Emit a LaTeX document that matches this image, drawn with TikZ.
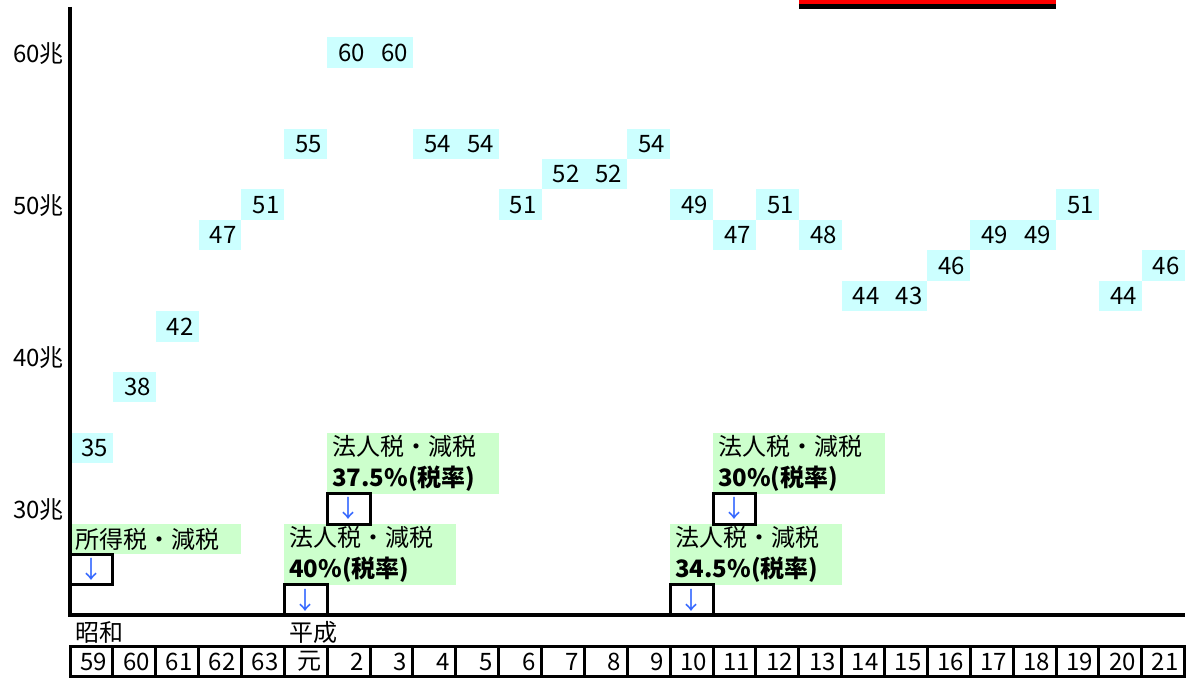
\documentclass[tikz,border=0pt]{standalone}
\usepackage{fontspec}
\setmainfont{Noto Sans CJK JP}
\usepackage{xcolor}
\definecolor{cellcyan}{HTML}{CCFFFF}
\definecolor{notegreen}{HTML}{CCFFCC}
\definecolor{arrowblue}{HTML}{3366FF}

\begin{document}
\begin{tikzpicture}[
    x=1pt, y=-1pt,
    font=\fontsize{24}{30.42}\selectfont,
    every node/.style={outer sep=0pt},
    value/.style={anchor=north west, fill=cellcyan, minimum width=42.87pt, minimum height=30.42pt, inner xsep=5pt, inner ysep=0pt, text width=32.87pt, align=right},
    note/.style={anchor=north west, fill=notegreen, minimum width=171.48pt, minimum height=60.84pt, inner xsep=5pt, inner ysep=0pt, text width=161.48pt, align=left},
    downbox/.style={anchor=north west, draw, line width=3pt, minimum width=42.87pt, minimum height=30.42pt, inner sep=0pt, text=arrowblue},
    yearbox/.style={anchor=north west, draw, line width=3pt, minimum width=42.87pt, minimum height=30.42pt, inner xsep=6pt, inner ysep=0pt, text width=30.87pt, align=right},
    scale label/.style={anchor=east, inner sep=0pt}
]
    \useasboundingbox (0,0) rectangle (1189,679);

    % Amounts per year (column/row/value)
    \foreach \c/\r/\v in {0/14/35, 1/12/38, 2/10/42, 3/7/47, 4/6/51, 5/4/55, 6/1/60, 7/1/60, 8/4/54,
        9/4/54, 10/6/51, 11/5/52, 12/5/52, 13/4/54, 14/6/49, 15/7/47, 16/6/51, 17/7/48, 18/9/44,
        19/9/43, 20/8/46, 21/7/49, 22/7/49, 23/6/51, 24/9/44, 25/8/46}
        \node[value] (val\c) at ({70+\c*42.87}, {6.9+\r*30.42}) {\v};

    % Tax cut notes
    \node[note, minimum height=30.42pt] (income) at (70, 524) {所得税・減税};
    \node[downbox] (incomedown) at (income.south west) {↓};
    \node[note] (corp40) at (284.35, 524) {法人税・減税\\\textbf{40\%(税率)}};
    \node[downbox] (corp40down) at (corp40.south west) {↓};
    \node[note] (corp375) at (327.22, 432.8) {法人税・減税\\\textbf{37.5\%(税率)}};
    \node[downbox] (corp375down) at (corp375.south west) {↓};
    \node[note] (corp345) at (670.18, 524) {法人税・減税\\\textbf{34.5\%(税率)}};
    \node[downbox] (corp345down) at (corp345.south west) {↓};
    \node[note] (corp30) at (713.05, 432.8) {法人税・減税\\\textbf{30\%(税率)}};
    \node[downbox] (corp30down) at (corp30.south west) {↓};

    % Scale
    \node[scale label] (t60) at (64, 54) {60兆};
    \node[scale label] (t50) at (64, 206) {50兆};
    \node[scale label] (t40) at (64, 358) {40兆};
    \node[scale label] (t30) at (64, 510) {30兆};

    % Axes
    \draw[line width=4.5pt] (70,6.9) -- (70,615) -- (1184.6,615);
    \fill[red] (798.8,0) rectangle (1056,4);
    \draw[line width=4.5pt] (798.8,6.4) -- (1056,6.4);

    % Years
    \node[anchor=west, inner xsep=5pt] (showa) at (70, 632) {昭和};
    \node[anchor=west, inner xsep=5pt] (heisei) at (284.35, 632) {平成};
    \foreach \c/\yr in {0/59, 1/60, 2/61, 3/62, 4/63, 5/元, 6/2, 7/3, 8/4, 9/5, 10/6, 11/7, 12/8,
        13/9, 14/10, 15/11, 16/12, 17/13, 18/14, 19/15, 20/16, 21/17, 22/18, 23/19, 24/20, 25/21}
        \node[yearbox] (year\c) at ({70+\c*42.87}, 646.5) {\yr};
\end{tikzpicture}
\end{document}
